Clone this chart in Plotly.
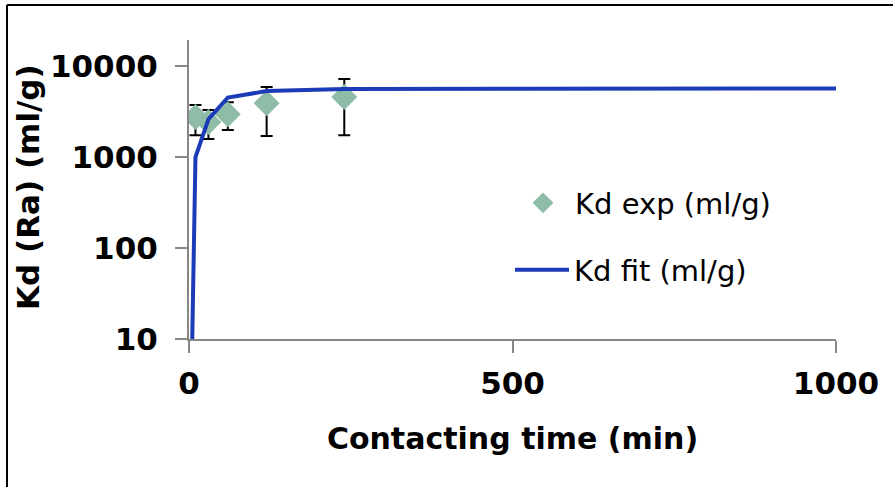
import plotly.graph_objects as go

# Experimental Kd values (ml/g) vs contacting time (min)
t_exp = [10, 30, 60, 120, 240]
kd_exp = [2750, 2430, 2960, 3900, 4570]
kd_err_plus = [980, 850, 1040, 1990, 2630]
kd_err_minus = [1010, 850, 980, 2200, 2830]

# Fitted kinetic curve
t_fit = [5, 10, 30, 60, 120, 240, 1000]
kd_fit = [10, 1000, 2600, 4500, 5300, 5580, 5680]

x_ticks = [0, 500, 1000]
y_ticks = [10, 100, 1000, 10000]

W, H = 893, 487
L, R, T, B = 189, 836, 40, 339  # plot-area edges in pixels

FONT = "DejaVu Sans"
AXIS_GREY = "#878787"


def px_x(p):
    return (p - L) / (R - L)


def px_y(p):
    return (B - p) / (B - T)


fig = go.Figure()

fig.add_trace(go.Scatter(
    x=t_exp, y=kd_exp, mode="markers", name="Kd exp (ml/g)",
    marker=dict(symbol="diamond", size=20, color="#8FBCA6"),
    error_y=dict(type="data", symmetric=False, array=kd_err_plus,
                 arrayminus=kd_err_minus, color="black", thickness=2, width=6),
    legend="legend",
))

fig.add_trace(go.Scatter(
    x=t_fit, y=kd_fit, mode="lines", name="Kd fit (ml/g)",
    line=dict(color="#1C3BB8", width=4),
    legend="legend2",
))

axis_common = dict(
    showgrid=False, zeroline=False, showline=True, linecolor=AXIS_GREY,
    linewidth=2, ticks="outside", ticklen=12, tickwidth=2, tickcolor=AXIS_GREY,
    tickfont=dict(family=FONT, size=31, color="black", weight="bold"),
)

fig.update_xaxes(
    range=[0, 1000], tickvals=x_ticks, ticktext=[str(v) for v in x_ticks],
    title=dict(text="Contacting time (min)",
               font=dict(family=FONT, size=30, color="black", weight="bold"),
               standoff=28),
    ticklabelstandoff=4,
    **axis_common,
)
fig.update_yaxes(
    type="log", range=[1, 4.286], tickvals=y_ticks,
    ticktext=[str(v) for v in y_ticks],
    ticklabelstandoff=11,
    **axis_common,
)

legend_font = dict(family=FONT, size=29, color="black")

fig.update_layout(
    width=W, height=H,
    margin=dict(l=L, r=W - R, t=T, b=H - B),
    paper_bgcolor="white", plot_bgcolor="white",
    showlegend=True,
    legend=dict(x=px_x(511), y=px_y(203), xanchor="left", yanchor="middle",
                font=legend_font, bgcolor="rgba(0,0,0,0)", itemwidth=54),
    legend2=dict(x=px_x(510), y=px_y(270), xanchor="left", yanchor="middle",
                 font=legend_font, bgcolor="rgba(0,0,0,0)", itemwidth=54),
    annotations=[
        dict(text="Kd (Ra) (ml/g)", textangle=-90, showarrow=False,
             xref="paper", yref="paper", x=px_x(28), y=px_y(187),
             xanchor="center", yanchor="middle",
             font=dict(family=FONT, size=31, color="black", weight="bold")),
    ],
    shapes=[
        dict(type="line", xref="paper", yref="paper",
             x0=px_x(7), x1=px_x(W + 5), y0=px_y(5), y1=px_y(5),
             line=dict(color="black", width=2)),
        dict(type="line", xref="paper", yref="paper",
             x0=px_x(7), x1=px_x(7), y0=px_y(5), y1=px_y(H + 5),
             line=dict(color="black", width=2)),
    ],
)

fig.write_html("out.html")
